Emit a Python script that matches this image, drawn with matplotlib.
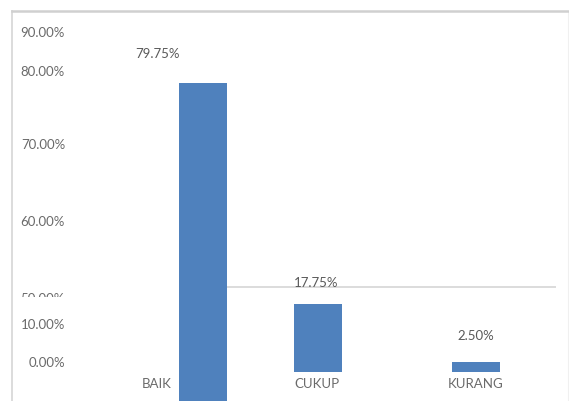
import numpy as np
import matplotlib
matplotlib.use("Agg")
import matplotlib.pyplot as plt
import matplotlib.transforms as mtrans

# ---------------- data ----------------
categories = ["BAIK", "CUKUP", "KURANG"]
values = [79.75, 17.75, 2.50]
upper_ticks = [50, 60, 70, 80, 90]
lower_ticks = [0, 10]
break_value = 50

# ---------------- style / layout ----------------
W, H = 569, 402
BAR_COLOR = "#4f81bd"
TEXT_COLOR = "#595959"
TICK_COLOR = "#6a6a6a"
FONT = ["Lato", "DejaVu Sans"]
FS = 9.5
bar_shift = [0.29, 0.01, 0.0]      # horizontal bar offsets (category units)
bar_width = 0.30
label_gap_px = [30, 22, 27]        # data label distance above bar top

plt.rcParams["font.family"] = FONT

fig = plt.figure(figsize=(W / 100, H / 100), dpi=100)
fig.patch.set_facecolor("white")


def rect(x0, y0, x1, y1):
    return [x0 / W, 1 - y1 / H, (x1 - x0) / W, (y1 - y0) / H]


ax_top = fig.add_axes(rect(12, 12, 568, 402))
ax_bot = fig.add_axes(rect(12, 288, 568, 402))
ax_bot.patch.set_alpha(0)

# upper (broken, uneven) value scale: value -> position
kv = np.array([0, 50, 60, 70, 79.75, 80, 90, 100], dtype=float)
kp = -np.array([420, 299, 222, 145, 84, 72, 33, 0], dtype=float)


def fwd(v):
    return np.interp(v, kv, kp)


def inv(p):
    return np.interp(p, kp, kv)


ax_top.set_yscale("function", functions=(fwd, inv))
ax_top.set_ylim(inv(-402), inv(-12))

# lower linear scale: baseline at 373 px, 3.85 px per percent
ppp = 3.85
ax_bot.set_ylim(-(402 - 373) / ppp, (373 - 288) / ppp)

unit, c0 = 159.5, 157
for ax in (ax_top, ax_bot):
    ax.set_xlim((12 - c0) / unit, (568 - c0) / unit)
    ax.set_xticks([])
    ax.set_yticks([])
    ax.minorticks_off()

# frame
ax_top.spines["bottom"].set_visible(False)
ax_top.spines["left"].set_color("#d9d9d9")
ax_top.spines["left"].set_linewidth(1.3)
ax_top.spines["top"].set_color("#d0d0d0")
ax_top.spines["top"].set_linewidth(1.8)
ax_top.spines["right"].set_color("#f0f0f0")
ax_top.spines["right"].set_linewidth(0.8)
for s in ax_bot.spines.values():
    s.set_visible(False)

# bars
baik_right = None
for i, (cat, v) in enumerate(zip(categories, values)):
    ax = ax_top if v > break_value else ax_bot
    ax.bar(i + bar_shift[i], v, width=bar_width, color=BAR_COLOR, zorder=3)
    if v > break_value:
        baik_right = i + bar_shift[i] + bar_width / 2
    ax.annotate(f"{v:.2f}%", xy=(i, v), xytext=(0, label_gap_px[i] * 0.72),
                textcoords="offset points", ha="center", va="center",
                fontsize=FS, color=TEXT_COLOR, zorder=4)
    ax_bot.annotate(cat, xy=(i, 0), xytext=(0, -11.5 * 0.72),
                    textcoords="offset points", ha="center", va="center",
                    fontsize=FS, color=TICK_COLOR, zorder=4)

# partial break line
ax_bot.hlines(1, baik_right, len(categories) - 0.5,
              transform=ax_bot.get_xaxis_transform(),
              colors="#d9d9d9", linewidth=1.3, zorder=2, clip_on=False)

# y tick labels
x_lab = (65 - 12) / 556
clip = mtrans.TransformedBbox(
    mtrans.Bbox([[0, (402 - 298) / 390], [1, 1]]), ax_top.transAxes)
tr_top = mtrans.blended_transform_factory(ax_top.transAxes, ax_top.transData)
for t in upper_ticks:
    txt = ax_top.text(x_lab, t, f"{t:.2f}%", transform=tr_top, ha="right",
                      va="center", fontsize=FS, color=TICK_COLOR)
    txt.set_clip_box(clip)
    txt.set_clip_on(True)

tr_bot = mtrans.blended_transform_factory(ax_bot.transAxes, ax_bot.transData) + \
    mtrans.ScaledTranslation(0, 9.5 / 100, fig.dpi_scale_trans)
for t in lower_ticks:
    ax_bot.text(x_lab, t, f"{t:.2f}%", transform=tr_bot, ha="right",
                va="center", fontsize=FS, color=TICK_COLOR, clip_on=False)

fig.savefig("out.png", dpi=100, facecolor="white")
